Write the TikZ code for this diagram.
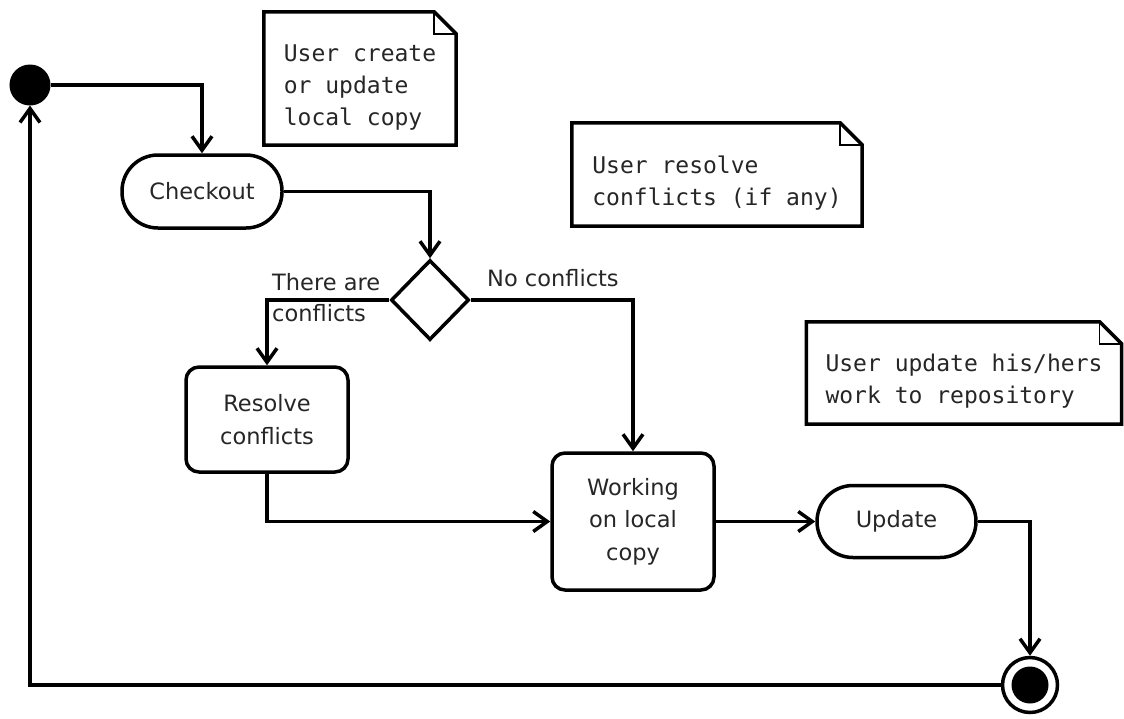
\documentclass[tikz,border=0pt]{standalone}
\usepackage{fontspec}
\setmainfont{DejaVu Sans}
\newfontfamily\notefont{DejaVu Sans Mono}
\usetikzlibrary{arrows.meta,shapes.geometric,calc}
\tikzset{
  flow/.style={draw, line width=3.5pt, -{Straight Barb[length=14pt,width=20pt]}, line join=miter},
  lbl/.style={font=\fontsize{22.5}{31}\selectfont, text=black!85, inner sep=0pt},
  stadium/.style={draw, line width=3.5pt, rectangle, rounded corners=36pt, align=center, font=\fontsize{22.5}{32.5}\selectfont, text=black!85},
  action/.style={draw, line width=3.5pt, rectangle, rounded corners=13pt, align=center, font=\fontsize{22.5}{32.5}\selectfont, text=black!85},
  notebox/.style={rectangle, inner sep=0pt, align=left, font=\notefont\fontsize{23}{32}\selectfont, text=black!85},
  decision/.style={draw, line width=3.5pt, diamond, inner sep=0pt, minimum width=78pt, minimum height=80pt},
}
\newcommand{\dogear}[1]{%
  \draw[line width=3.5pt, line join=miter] (#1.north west) -- ($(#1.north east)+(-22pt,0)$) -- ($(#1.north east)+(0,-22pt)$) -- (#1.south east) -- (#1.south west) -- cycle;
  \draw[line width=1.5pt] ($(#1.north east)+(-22pt,0)$) -- ($(#1.north east)+(-22pt,-22pt)$) -- ($(#1.north east)+(0,-22pt)$);
}
\begin{document}
\begin{tikzpicture}[x=1pt,y=-1pt]
\useasboundingbox (0,0) rectangle (1124,718);
% initial / final
\node[circle, fill=black, draw, line width=1pt, minimum size=40pt, inner sep=0pt] (start) at (30,85) {};
\node[circle, draw, line width=3.5pt, minimum size=55pt, inner sep=0pt,
      path picture={\fill (path picture bounding box.center) circle (18.5pt);}] (final) at (1030,685) {};
% actions
\node[stadium, minimum width=160pt, minimum height=73pt] (checkout) at (202,191.5) {Checkout};
\node[decision] (dec) at (430,300) {};
\node[action, minimum width=162pt, minimum height=105pt] (resolve) at (267,419.5) {Resolve\\conflicts};
\node[action, minimum width=162pt, minimum height=137pt] (work) at (633,521.5) {Working\\on local\\copy};
\node[stadium, minimum width=159pt, minimum height=72pt] (update) at (896.5,521.5) {Update};
% notes
\node[notebox, minimum width=192pt, minimum height=133pt] (n1) at (360,78.5) {\rule{0pt}{34pt}User create\\or update\\local copy};
\dogear{n1}
\node[notebox, minimum width=290pt, minimum height=103pt] (n2) at (717,174.5) {\rule{0pt}{34pt}User resolve\\conflicts (if any)};
\dogear{n2}
\node[notebox, minimum width=315pt, minimum height=102pt] (n3) at (964,373) {\rule{0pt}{34pt}User update his/hers\\work to repository};
\dogear{n3}
% guard labels
\node[lbl, anchor=west, align=left] (lyes) at (272,298) {There are\\conflicts};
\node[lbl, anchor=west] (lno) at (487,278) {No conflicts};
% connectors
\draw[flow] (start.east) -| (checkout.north);
\draw[flow] (checkout.east) -| (dec.north);
\draw[flow] (dec.west) -| (resolve.north);
\draw[flow] (dec.east) -| (work.north);
\draw[flow] (resolve.south) |- (work.west);
\draw[flow] (work.east) -- (update.west);
\draw[flow] (update.east) -| (final.north);
\draw[flow] (final.west) -| (start.south);
\end{tikzpicture}
\end{document}
